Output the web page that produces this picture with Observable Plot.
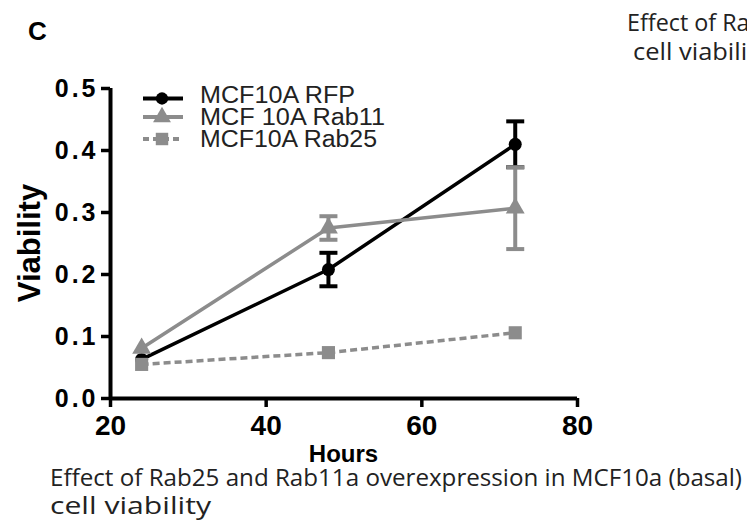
<!DOCTYPE html>
<html><head><meta charset="utf-8">
<script src="https://cdn.jsdelivr.net/npm/d3@7"></script>
<script src="https://cdn.jsdelivr.net/npm/@observablehq/plot@0.6"></script>
<style>
html,body{margin:0;padding:0;background:#fff;overflow:hidden;width:747px;height:527px}
#wrap{position:relative;width:747px;height:527px;overflow:hidden}
#wrap svg{position:absolute;left:0;top:0}
</style></head><body><div id="wrap"></div>
<script>
// ---- data ----
const hours = [24, 48, 72];
const seriesNames = ["MCF10A RFP", "MCF 10A Rab11", "MCF10A Rab25"];
const rfpMean = [0.063, 0.208, 0.410];
const rfpErr = [0.003, 0.027, 0.037];
const rab11Mean = [0.081, 0.275, 0.307];
const rab11Err = [0.003, 0.019, 0.066];
const rab25Mean = [0.055, 0.074, 0.106];
const rab25Err = [0.002, 0.003, 0.004];
const xTicks = [20, 40, 60, 80];
const yTicks = [0.0, 0.1, 0.2, 0.3, 0.4, 0.5];
const xLabel = "Hours";
const yLabel = "Viability";
const panelLetter = "C";
const captionLines = ["Effect of Rab25 and Rab11a overexpression in MCF10a (basal)", "cell viability"];

// ---- styles ----
const seriesColors = ["#000000", "#8c8c8c", "#8c8c8c"];
const seriesSymbols = ["circle", "triangle", "square"];
const seriesDash = [null, null, "7,4"];
const seriesMarkerR = [6.5, 7, 7.4];

const means = [rfpMean, rab11Mean, rab25Mean];
const errs = [rfpErr, rab11Err, rab25Err];
const series = seriesNames.map((name, i) => ({
  name, color: seriesColors[i], symbol: seriesSymbols[i], dash: seriesDash[i], r: seriesMarkerR[i],
  rows: hours.map((h, j) => ({series: name, hours: h, mean: means[i][j], err: errs[i][j]}))
}));

const capSymbol = {
  draw(ctx, size) {
    const r = Math.sqrt(size / Math.PI);
    ctx.moveTo(-r, 0); ctx.lineTo(r, 0);
  }
};

const marks = [];
for (const s of series) {
  marks.push(Plot.line(s.rows, {x: "hours", y: "mean", stroke: s.color, strokeWidth: 3.5,
    strokeDasharray: s.dash || undefined, strokeLinecap: "butt"}));
}
for (const s of series) {
  const big = s.rows.filter(d => d.err >= 0.01);
  marks.push(Plot.ruleX(big, {x: "hours", y1: d => d.mean - d.err, y2: d => d.mean + d.err, stroke: s.color, strokeWidth: 4}));
  marks.push(Plot.dot(big, {x: "hours", y: d => d.mean + d.err, symbol: capSymbol, r: 9, stroke: s.color, strokeWidth: 4, fill: "none"}));
  marks.push(Plot.dot(big, {x: "hours", y: d => d.mean - d.err, symbol: capSymbol, r: 9, stroke: s.color, strokeWidth: 4, fill: "none"}));
  marks.push(Plot.dot(s.rows, {x: "hours", y: "mean", symbol: s.symbol, r: s.r, fill: s.color, stroke: "none"}));
}

const chart = Plot.plot({
  width: 747, height: 527,
  marginLeft: 110, marginRight: 170, marginTop: 88, marginBottom: 129,
  style: {fontFamily: "'Liberation Sans', Arial, sans-serif", background: "#fff", color: "#000"},
  x: {domain: [20, 80]},
  y: {domain: [0, 0.5]},
  marks: [
    Plot.axisY({ticks: yTicks, tickFormat: d3.format(".1f"), tickSize: 9, tickPadding: 3, strokeWidth: 3.5,
      fontSize: 25, fontWeight: "bold", label: null}),
    Plot.axisX({ticks: xTicks, tickSize: 9, tickPadding: 8, strokeWidth: 3.5,
      fontSize: 28, fontWeight: "bold", label: null}),
    Plot.ruleX([xTicks[0]], {y1: yTicks[0], y2: yTicks[yTicks.length - 1], strokeWidth: 4}),
    Plot.ruleY([yTicks[0]], {x1: xTicks[0], x2: xTicks[xTicks.length - 1], strokeWidth: 4}),
    ...marks
  ]
});
chart.querySelectorAll('[aria-label="y-axis tick label"] text').forEach(t => t.setAttribute("letter-spacing", "3"));
document.getElementById("wrap").appendChild(chart);

// ---- overlay: panel letter, axis titles, legend, captions ----
const ov = d3.select("#wrap").append("svg").attr("width", 747).attr("height", 527)
  .style("pointer-events", "none");
const bold = "'Liberation Sans', Arial, sans-serif";
ov.append("text").attr("x", 28).attr("y", 40).attr("font-family", bold)
  .attr("font-weight", "bold").attr("font-size", 26).text(panelLetter);
ov.append("text").attr("x", 343.5).attr("y", 462).attr("text-anchor", "middle").attr("font-family", bold)
  .attr("font-weight", "bold").attr("font-size", 24).text(xLabel);
ov.append("text").attr("transform", "translate(40,243) rotate(-90)").attr("text-anchor", "middle").attr("font-family", bold)
  .attr("font-weight", "bold").attr("font-size", 31).text(yLabel);

const legLineY = [98.5, 117, 139];
const legTextY = [95, 116.5, 138.5];
const legTextLen = [155, 185, 177];
series.forEach((s, i) => {
  const g = ov.append("g");
  g.append("line").attr("x1", 143).attr("x2", 183).attr("y1", legLineY[i]).attr("y2", legLineY[i])
    .attr("stroke", s.color).attr("stroke-width", 4).attr("stroke-dasharray", s.dash ? "6,4" : null);
  g.append("path").attr("transform", `translate(162,${legLineY[i]})`)
    .attr("d", d3.symbol(s.symbol === "circle" ? d3.symbolCircle : s.symbol === "triangle" ? d3.symbolTriangle : d3.symbolSquare, Math.PI * s.r * s.r * 0.9)())
    .attr("fill", s.color);
  g.append("text").attr("x", 200).attr("y", legTextY[i]).attr("dy", "0.36em")
    .attr("font-family", bold).attr("font-size", 23).attr("fill", "#222")
    .attr("textLength", legTextLen[i]).attr("lengthAdjust", "spacingAndGlyphs").text(s.name);
});

const capFont = "'Open Sans', 'Noto Sans', sans-serif";
ov.append("text").attr("x", 50).attr("y", 486).attr("font-family", capFont).attr("font-size", 23.5).attr("fill", "#222")
  .attr("textLength", 692).attr("lengthAdjust", "spacingAndGlyphs").text(captionLines[0]);
ov.append("text").attr("x", 50).attr("y", 514).attr("font-family", capFont).attr("font-size", 23.5).attr("fill", "#222")
  .attr("textLength", 161).attr("lengthAdjust", "spacingAndGlyphs").text(captionLines[1]);
ov.append("text").attr("x", 627).attr("y", 31).attr("font-family", capFont).attr("font-size", 24).attr("fill", "#222")
  .attr("textLength", 668).attr("lengthAdjust", "spacingAndGlyphs").text(captionLines[0]);
ov.append("text").attr("x", 633).attr("y", 60).attr("font-family", capFont).attr("font-size", 24).attr("fill", "#222")
  .attr("textLength", 136).attr("lengthAdjust", "spacingAndGlyphs").text(captionLines[1]);
</script></body></html>
